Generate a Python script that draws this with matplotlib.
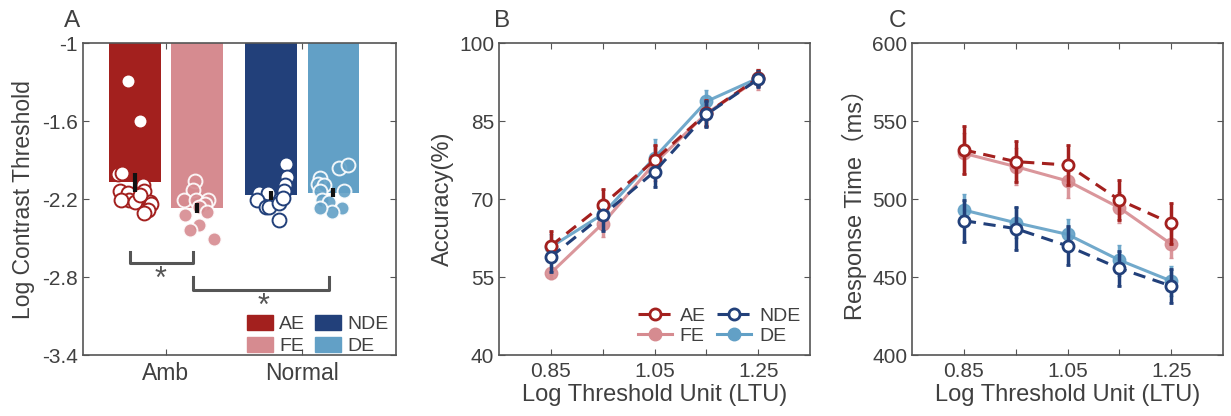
import numpy as np
import matplotlib
matplotlib.use('Agg')
import matplotlib.pyplot as plt
from matplotlib.patches import Patch
from matplotlib.lines import Line2D

plt.rcParams['font.family'] = ['Liberation Sans', 'Noto Sans CJK SC', 'DejaVu Sans']
plt.rcParams['font.size'] = 15
TXT = '#404040'
EDGE = '#555555'

# ----------------------------------------------------------------------
#  Data
# ----------------------------------------------------------------------
groups = ['AE', 'FE', 'NDE', 'DE']
colors = {'AE': '#A3201E', 'FE': '#D68B90', 'NDE': '#22407A', 'DE': '#62A0C6'}

# panel A: bar means, SEM and individual subjects (x jitter, value)
bar_mean = [-2.07, -2.27, -2.17, -2.15]
bar_sem = [0.075, 0.04, 0.035, 0.035]

ae_dx = [-0.05, 0.04, -0.12, -0.09, -0.11, -0.05, 0.06, 0.07, -0.04, -0.10, 0.0, 0.11, 0.12, 0.10, 0.07, 0.04]
ae_y = [-1.29, -1.60, -2.01, -2.00, -2.14, -2.15, -2.09, -2.14, -2.21, -2.21, -2.22, -2.22, -2.24, -2.28, -2.31, -2.17]
fe_dx = [-0.02, -0.03, -0.10, -0.01, 0.08, 0.055, 0.01, -0.09, 0.07, 0.01, -0.055, 0.12]
fe_y = [-2.06, -2.13, -2.21, -2.21, -2.21, -2.24, -2.26, -2.32, -2.30, -2.40, -2.44, -2.51]
nde_dx = [0.11, 0.12, 0.105, 0.10, -0.086, -0.024, -0.10, -0.037, -0.01, 0.06, 0.06, 0.09]
nde_y = [-1.93, -2.03, -2.09, -2.14, -2.15, -2.15, -2.21, -2.26, -2.26, -2.23, -2.36, -2.19]
de_dx = [0.04, 0.105, -0.095, -0.11, -0.07, 0.076, -0.095, -0.083, -0.035, 0.064, -0.01, -0.095]
de_y = [-1.96, -1.94, -2.04, -2.08, -2.09, -2.14, -2.14, -2.21, -2.22, -2.27, -2.30, -2.27]

# panel B/C: threshold levels
ltu = [0.85, 0.95, 1.05, 1.15, 1.25]

acc = {
    'AE':  [61.0, 68.9, 77.5, 86.5, 93.3],
    'FE':  [55.8, 65.3, 76.9, 86.5, 93.1],
    'NDE': [58.9, 66.9, 75.3, 86.3, 93.1],
    'DE':  [60.8, 67.1, 78.0, 88.8, 93.3],
}
acc_err = {
    'AE':  [2.8, 3.0, 3.0, 2.5, 1.5],
    'FE':  [1.2, 2.5, 3.5, 2.5, 2.0],
    'NDE': [3.0, 3.0, 3.0, 2.5, 1.5],
    'DE':  [2.5, 3.0, 3.5, 2.3, 1.5],
}

rt = {
    'AE':  [531.6, 524.1, 521.9, 499.5, 484.5],
    'FE':  [529.4, 520.9, 511.7, 494.5, 471.2],
    'NDE': [486.2, 481.1, 470.0, 455.6, 444.3],
    'DE':  [493.0, 484.9, 477.4, 460.9, 447.5],
}
rt_err = {
    'AE':  [15.4, 13.0, 13.0, 13.0, 13.0],
    'FE':  [13.0, 12.0, 11.0, 10.0, 9.0],
    'NDE': [13.5, 14.0, 12.5, 11.0, 11.0],
    'DE':  [10.0, 10.0, 10.0, 10.0, 9.5],
}

# ----------------------------------------------------------------------
#  Helpers
# ----------------------------------------------------------------------
def style_axes(ax):
    for s in ax.spines.values():
        s.set_color(EDGE)
        s.set_linewidth(1.2)
    ax.tick_params(direction='in', top=True, right=True, length=4,
                   color=EDGE, labelcolor=TXT, labelsize=15)

fig = plt.figure(figsize=(12.31, 4.16), dpi=100)
axA = fig.add_axes([0.0674, 0.1466, 0.2543, 0.7493])
axB = fig.add_axes([0.4054, 0.1466, 0.2526, 0.7493])
axC = fig.add_axes([0.7409, 0.1466, 0.2526, 0.7493])

# ----------------------------------------------------------------------
#  Panel A
# ----------------------------------------------------------------------
bar_x = [0.77, 1.23, 1.77, 2.23]
for i, g in enumerate(groups):
    axA.bar(bar_x[i], bar_mean[i] - (-1), bottom=-1, width=0.38,
            color=colors[g], zorder=1)

pts = [(ae_dx, ae_y), (fe_dx, fe_y), (nde_dx, nde_y), (de_dx, de_y)]
for i, g in enumerate(groups):
    dx, yy = pts[i]
    xx = bar_x[i] + np.array(dx)
    if g in ('AE', 'NDE'):
        axA.scatter(xx, yy, s=100, facecolor='white', edgecolor=colors[g],
                    linewidth=1.4, zorder=2)
    else:
        axA.scatter(xx, yy, s=100, facecolor=colors[g], edgecolor='white',
                    linewidth=1.4, alpha=0.9, zorder=2)

for i in range(4):
    axA.plot([bar_x[i], bar_x[i]], [bar_mean[i] - bar_sem[i], bar_mean[i] + bar_sem[i]],
             color='#111111', lw=3, solid_capstyle='butt', zorder=3)

# significance brackets
axA.plot([0.735, 0.735, 1.196, 1.196], [-2.61, -2.69, -2.69, -2.61], color=EDGE, lw=2.2)
axA.text(0.96, -2.82, '*', ha='center', va='center', fontsize=22, color=EDGE)
axA.plot([1.196, 1.196, 2.2, 2.2], [-2.80, -2.90, -2.90, -2.80], color=EDGE, lw=2.2)
axA.text(1.72, -3.03, '*', ha='center', va='center', fontsize=22, color=EDGE)

axA.set_xlim(0.39, 2.69)
axA.set_ylim(-3.4, -1)
axA.set_yticks([-1, -1.6, -2.2, -2.8, -3.4])
axA.set_yticklabels(['-1', '-1.6', '-2.2', '-2.8', '-3.4'])
axA.set_xticks([1, 2])
axA.set_xticklabels(['Amb', 'Normal'])
axA.set_ylabel('Log Contrast Threshold', color=TXT, fontsize=16.5, labelpad=5)
style_axes(axA)
axA.tick_params(axis='x', labelsize=16.5, pad=5)

handlesA = [Patch(color=colors['AE'], label='AE'), Patch(color=colors['FE'], label='FE'),
            Patch(color=colors['NDE'], label='NDE'), Patch(color=colors['DE'], label='DE')]
legA = axA.legend(handles=handlesA, ncol=2, loc='lower right', frameon=False,
                  fontsize=14, handlelength=1.35, handleheight=0.8, handletextpad=0.3,
                  columnspacing=0.5, labelspacing=0.2, borderaxespad=0.0,
                  bbox_to_anchor=(1.0, -0.025))
for t in legA.get_texts():
    t.set_color(TXT)

# ----------------------------------------------------------------------
#  Panels B and C
# ----------------------------------------------------------------------
def draw_lines(ax, data, err):
    for g in groups:
        if g in ('AE', 'NDE'):
            ax.errorbar(ltu, data[g], yerr=err[g], color=colors[g], ls=(0, (4, 2.5)),
                        lw=2.2, marker='o', ms=8, mfc='white', mec=colors[g], mew=2,
                        elinewidth=2.5, capsize=1.2, capthick=2.5, zorder=3)
        else:
            ax.errorbar(ltu, data[g], yerr=err[g], color=colors[g], ls='-',
                        lw=2.2, marker='o', ms=9, mfc=colors[g], mec=colors[g], mew=1,
                        alpha=0.9, elinewidth=2.5, capsize=1.2, capthick=2.5, zorder=2)
    ax.set_xlim(0.75, 1.35)
    ax.set_xticks(ltu)
    ax.set_xticklabels(['0.85', '', '1.05', '', '1.25'])
    ax.set_xlabel('Log Threshold Unit (LTU)', color=TXT, fontsize=17, labelpad=2)
    style_axes(ax)
    ax.tick_params(axis='x', pad=5)

draw_lines(axB, acc, acc_err)
axB.set_ylim(40, 100)
axB.set_yticks([40, 55, 70, 85, 100])
axB.set_ylabel('Accuracy(%)', color=TXT, fontsize=17, labelpad=4)

handlesB = [
    Line2D([], [], color=colors['AE'], ls=(0, (4, 2.5)), lw=2.2, marker='o', ms=8, mfc='white', mew=2, label='AE'),
    Line2D([], [], color=colors['FE'], ls='-', lw=2.2, marker='o', ms=9, label='FE'),
    Line2D([], [], color=colors['NDE'], ls=(0, (4, 2.5)), lw=2.2, marker='o', ms=8, mfc='white', mew=2, label='NDE'),
    Line2D([], [], color=colors['DE'], ls='-', lw=2.2, marker='o', ms=9, label='DE'),
]
legB = axB.legend(handles=handlesB, ncol=2, loc='lower right', frameon=False,
                  fontsize=14, handlelength=1.75, handletextpad=0.4,
                  columnspacing=0.6, labelspacing=0.15, borderaxespad=0.1)
for t in legB.get_texts():
    t.set_color(TXT)

draw_lines(axC, rt, rt_err)
axC.set_ylim(400, 600)
axC.set_yticks([400, 450, 500, 550, 600])
axC.set_ylabel('Response Time（ms）', color=TXT, fontsize=17, labelpad=4)

# panel letters
fig.text(0.0585, 0.95, 'A', fontsize=17.5, color=TXT, ha='center', va='center')
fig.text(0.4078, 0.95, 'B', fontsize=17.5, color=TXT, ha='center', va='center')
fig.text(0.7287, 0.95, 'C', fontsize=17.5, color=TXT, ha='center', va='center')

fig.savefig('out.png', dpi=100)
